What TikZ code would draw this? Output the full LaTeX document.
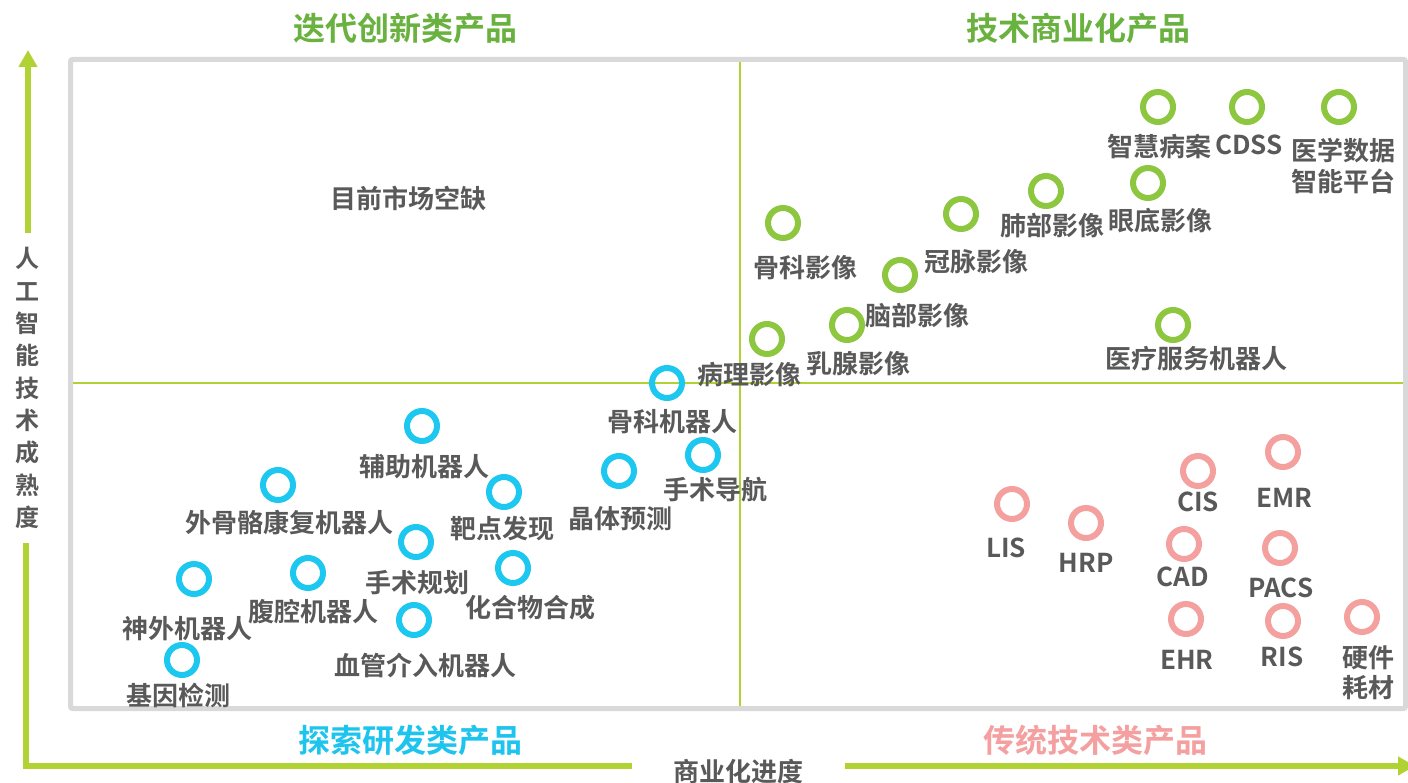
\documentclass[tikz,border=0pt]{standalone}
\usepackage{fontspec}
\setmainfont{Noto Sans CJK SC}[BoldFont={Noto Sans CJK SC Bold}]
\usetikzlibrary{arrows.meta}
\definecolor{txt}{RGB}{89,89,89}
\definecolor{cg}{RGB}{141,198,63}
\definecolor{cc}{RGB}{29,200,240}
\definecolor{cp}{RGB}{244,160,158}
\definecolor{tg}{RGB}{106,178,64}
\definecolor{tc}{RGB}{29,196,238}
\definecolor{tp}{RGB}{244,160,160}
\definecolor{axc}{RGB}{176,210,50}
\definecolor{frame}{RGB}{217,217,217}
\tikzset{
  lbl/.style={font=\bfseries\fontsize{26}{31}\selectfont, text=txt, inner sep=0pt, align=center},
  ttl/.style={font=\bfseries\fontsize{32}{36}\selectfont, inner sep=0pt},
  ring/.style={circle, line width=6pt, minimum size=30pt, inner sep=0pt},
  rg/.style={ring, draw=cg},
  rc/.style={ring, draw=cc},
  rp/.style={ring, draw=cp},
  axis/.style={draw=axc, line width=6pt},
  quad/.style={draw=axc, line width=2pt},
  tipA/.style={-{Triangle[width=18pt,length=17pt]}},
}
\begin{document}
\begin{tikzpicture}[x=1pt,y=-1pt]
\useasboundingbox (0,0) rectangle (1408,783);
\fill[white] (0,0) rectangle (1408,783);
% frame and quadrant lines
\draw[draw=frame, line width=5pt, rounded corners=2pt] (70.5,59.5) rectangle (1405.5,708.5);
\coordinate (qt) at (740,62); \coordinate (qb) at (740,706);
\coordinate (ql) at (73,383); \coordinate (qr) at (1403,383);
\draw[quad] (qt) -- (qb);
\draw[quad] (ql) -- (qr);
% axes
\coordinate (ya) at (28,233); \coordinate (yb) at (28,50);
\draw[axis, tipA] (ya) -- (yb);
\coordinate (yc) at (26,543); \coordinate (yd) at (26,766); \coordinate (ye) at (632,766);
\draw[axis, line join=miter] (yc) -- (yd) -- (ye);
\coordinate (xa) at (845,766); \coordinate (xb) at (1415,766);
\draw[axis, tipA] (xa) -- (xb);
\node[font=\bfseries\fontsize{24}{32.3}\selectfont, text=txt, inner sep=0pt, align=center] (ylab) at (27,388) {人\\工\\智\\能\\技\\术\\成\\熟\\度};
\node[lbl] (xlab) at (738,772) {商业化进度};
% titles
\node[ttl, text=tg] (t1) at (405,28) {迭代创新类产品};
\node[ttl, text=tg] (t2) at (1078,28) {技术商业化产品};
\node[ttl, text=tc] (t3) at (410,740) {探索研发类产品};
\node[ttl, text=tp] (t4) at (1095,740) {传统技术类产品};
\node[lbl] (gap) at (408,198) {目前市场空缺};
% green
\node[rg] (g1) at (1158,107) {}; \node[lbl] (lg1) at (1159,147) {智慧病案};
\node[rg] (g2) at (1247,107) {}; \node[lbl] (lg2) at (1249,145) {CDSS};
\node[rg] (g3) at (1339,107) {}; \node[lbl] (lg3) at (1343,165.5) {医学数据\\智能平台};
\node[rg] (g4) at (1148,183) {}; \node[lbl] (lg4) at (1160,221) {眼底影像};
\node[rg] (g5) at (1046,191) {}; \node[lbl] (lg5) at (1052,226) {肺部影像};
\node[rg] (g6) at (961,214) {}; \node[lbl] (lg6) at (976,262) {冠脉影像};
\node[rg] (g7) at (783,223) {}; \node[lbl] (lg7) at (805,268) {骨科影像};
\node[rg] (g8) at (900,275) {}; \node[lbl] (lg8) at (917,316) {脑部影像};
\node[rg] (g9) at (847,325) {}; \node[lbl] (lg9) at (858,364) {乳腺影像};
\node[rg] (g10) at (767,339) {}; \node[lbl] (lg10) at (749,375) {病理影像};
\node[rg] (g11) at (1173,325) {}; \node[lbl] (lg11) at (1196,359) {医疗服务机器人};
% cyan
\node[rc] (c1) at (667,383) {}; \node[lbl] (lc1) at (672,422) {骨科机器人};
\node[rc] (c2) at (422,426) {}; \node[lbl] (lc2) at (424,467) {辅助机器人};
\node[rc] (c3) at (703,455) {}; \node[lbl] (lc3) at (715,490) {手术导航};
\node[rc] (c4) at (619,471) {}; \node[lbl] (lc4) at (620,519) {晶体预测};
\node[rc] (c5) at (278,485) {}; \node[lbl] (lc5) at (289,523) {外骨骼康复机器人};
\node[rc] (c6) at (504,492) {}; \node[lbl] (lc6) at (502,529) {靶点发现};
\node[rc] (c7) at (416,542) {}; \node[lbl] (lc7) at (417,583) {手术规划};
\node[rc] (c8) at (513,568) {}; \node[lbl] (lc8) at (530,608) {化合物合成};
\node[rc] (c9) at (194,579) {}; \node[lbl] (lc9) at (187,629) {神外机器人};
\node[rc] (c10) at (308,573) {}; \node[lbl] (lc10) at (313,612) {腹腔机器人};
\node[rc] (c11) at (414,620) {}; \node[lbl] (lc11) at (425,665) {血管介入机器人};
\node[rc] (c12) at (182,660) {}; \node[lbl] (lc12) at (178,695) {基因检测};
% pink
\node[rp] (p1) at (1198,471) {}; \node[lbl] (lp1) at (1198,502) {CIS};
\node[rp] (p2) at (1283,452) {}; \node[lbl] (lp2) at (1284,498) {EMR};
\node[rp] (p3) at (1012,504) {}; \node[lbl] (lp3) at (1006,548) {LIS};
\node[rp] (p4) at (1086,523) {}; \node[lbl] (lp4) at (1086,563) {HRP};
\node[rp] (p5) at (1184,544) {}; \node[lbl] (lp5) at (1183,577) {CAD};
\node[rp] (p6) at (1280,548) {}; \node[lbl] (lp6) at (1281,588) {PACS};
\node[rp] (p7) at (1186,619) {}; \node[lbl] (lp7) at (1187,660) {EHR};
\node[rp] (p8) at (1283,621) {}; \node[lbl] (lp8) at (1282,657) {RIS};
\node[rp] (p9) at (1362,617) {}; \node[lbl, font=\bfseries\fontsize{26}{30}\selectfont] (lp9) at (1368,673) {硬件\\耗材};
\end{tikzpicture}
\end{document}
